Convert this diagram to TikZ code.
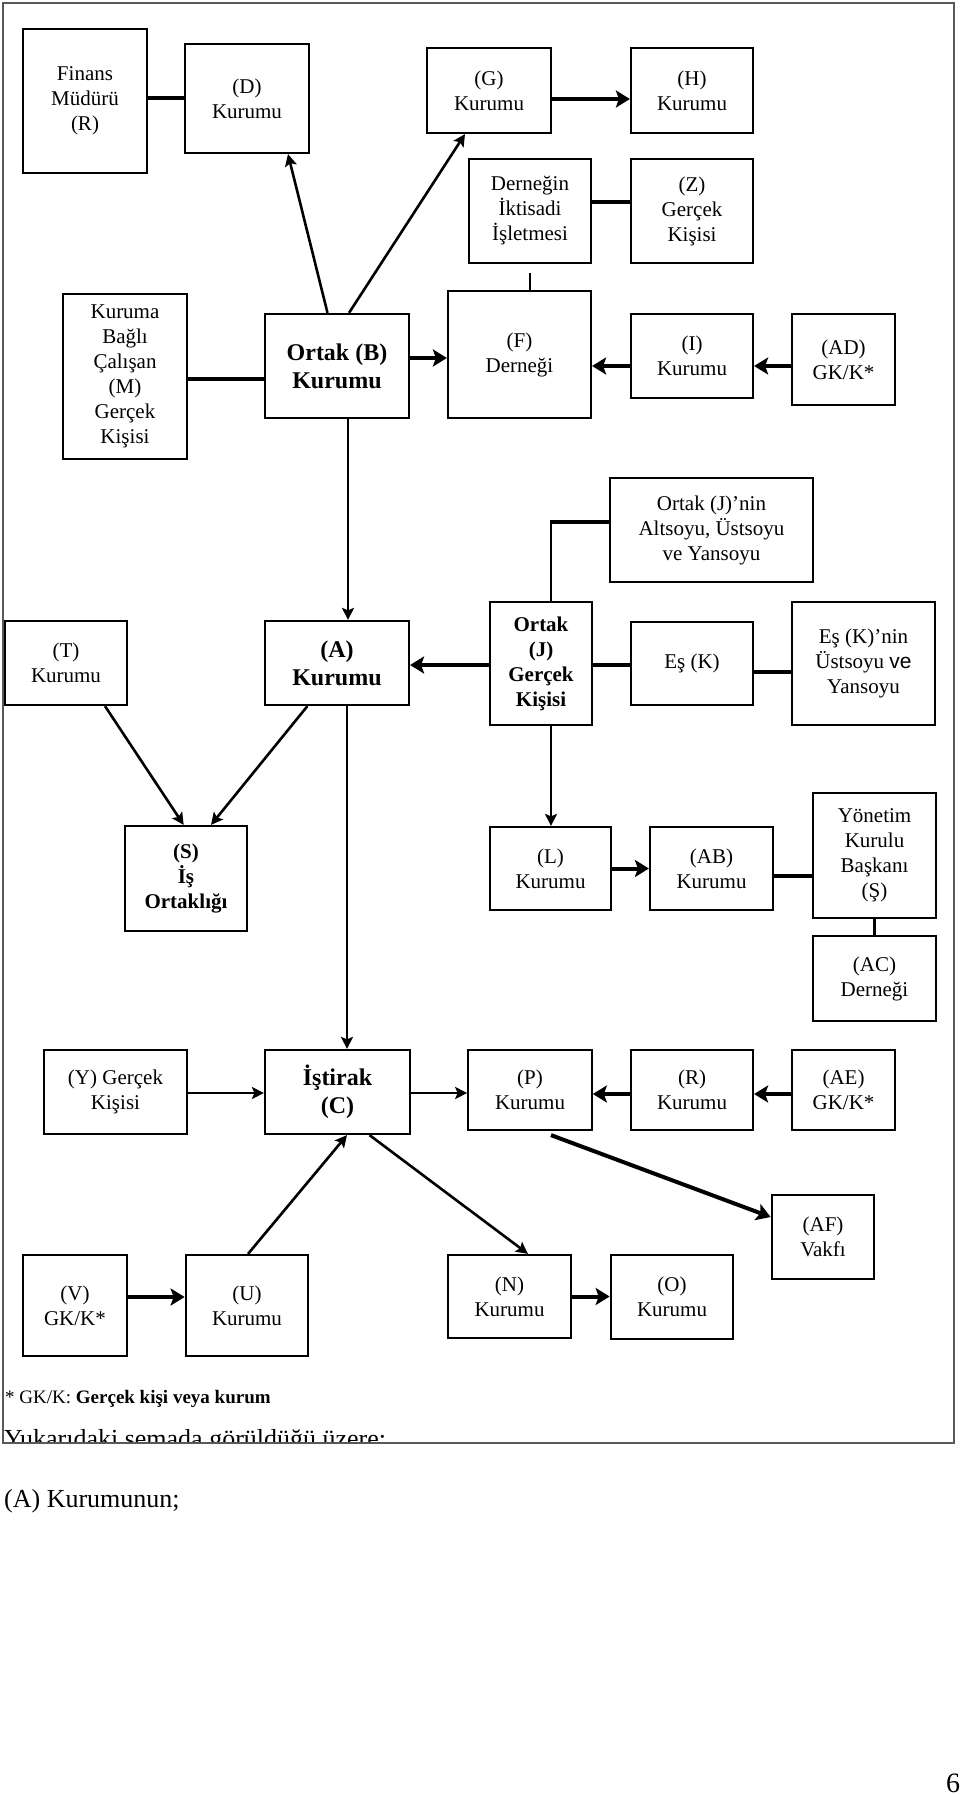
\documentclass[tikz,border=0pt]{standalone}
\usepackage{fontspec}
\setmainfont{Liberation Serif}
\setsansfont{Liberation Sans}
\usetikzlibrary{arrows.meta}
\begin{document}
\begin{tikzpicture}[x=1pt,y=-1pt,
  box/.style={draw, line width=2.2pt, align=center, inner sep=0pt, font=\fontsize{21}{25}\selectfont},
  bbox/.style={box, font=\fontsize{24}{28}\selectfont\bfseries},
  sbox/.style={box, font=\fontsize{21}{25}\selectfont\bfseries},
  thk/.style={line width=4pt},
  thn/.style={line width=2.6pt},
  thkarr/.style={thk, -{Stealth[length=14pt,width=17pt,inset=3pt]}},
  thnarr/.style={thn, -{Stealth[length=12pt,width=12pt,inset=2.5pt]}},
  txt/.style={anchor=base west, inner sep=0pt},
]
\useasboundingbox (0,0) rectangle (960,1795);

% boxes
\node[box, minimum width=124pt, minimum height=144pt] (fin) at (85,101) {Finans\\Müdürü\\(R)};
\node[box, minimum width=124pt, minimum height=109pt] (D) at (247,98.5) {(D)\\Kurumu};
\node[box, minimum width=124pt, minimum height=85pt] (G) at (489,90.5) {(G)\\Kurumu};
\node[box, minimum width=122pt, minimum height=85pt] (H) at (692,90.5) {(H)\\Kurumu};
\node[box, minimum width=122.5pt, minimum height=104pt] (dii) at (530,211) {Derneğin\\İktisadi\\İşletmesi};
\node[box, minimum width=122pt, minimum height=104pt] (Z) at (692,211) {(Z)\\Gerçek\\Kişisi};
\node[box, minimum width=124pt, minimum height=165pt] (M) at (125,376.5) {Kuruma\\Bağlı\\Çalışan\\(M)\\Gerçek\\Kişisi};
\node[bbox, minimum width=144pt, minimum height=104pt] (B) at (337,366) {Ortak (B)\\Kurumu};
\node[box, minimum width=143pt, minimum height=127pt] (F) at (519.5,354.5) {(F)\\Derneği};
\node[box, minimum width=122pt, minimum height=84pt] (I) at (692,356) {(I)\\Kurumu};
\node[box, minimum width=103pt, minimum height=91pt] (AD) at (843.5,359.5) {(AD)\\GK/K*};
\node[box, minimum width=203pt, minimum height=104pt] (Jd) at (711.5,530) {Ortak (J)’nin\\Altsoyu, Üstsoyu\\ve Yansoyu};
\node[box, minimum width=122pt, minimum height=84pt] (T) at (66,663) {(T)\\Kurumu};
\node[bbox, minimum width=144pt, minimum height=84pt] (A) at (337,663) {(A)\\Kurumu};
\node[sbox, minimum width=102pt, minimum height=123pt] (J) at (541,663.5) {Ortak\\(J)\\Gerçek\\Kişisi};
\node[box, minimum width=122pt, minimum height=83pt] (K) at (692,663.5) {Eş (K)};
\node[box, minimum width=143pt, minimum height=123pt] (Kd) at (863.5,663.5) {Eş (K)’nin\\Üstsoyu {\sffamily ve}\\Yansoyu};
\node[sbox, minimum width=121.5pt, minimum height=105pt] (S) at (186,878.5) {(S)\\İş\\Ortaklığı};
\node[box, minimum width=121pt, minimum height=83pt] (L) at (550.5,868.5) {(L)\\Kurumu};
\node[box, minimum width=123pt, minimum height=83pt] (AB) at (711.5,868.5) {(AB)\\Kurumu};
\node[box, minimum width=123pt, minimum height=125pt] (YK) at (874.5,855.5) {Yönetim\\Kurulu\\Başkanı\\(Ş)};
\node[box, minimum width=123pt, minimum height=85pt] (AC) at (874.5,978.5) {(AC)\\Derneği};
\node[box, minimum width=143pt, minimum height=84pt] (Y) at (115.5,1092) {(Y) Gerçek\\Kişisi};
\node[bbox, minimum width=145pt, minimum height=84pt] (C) at (337.5,1092) {İştirak\\(C)};
\node[box, minimum width=123.5pt, minimum height=80pt] (P) at (530,1090) {(P)\\Kurumu};
\node[box, minimum width=122pt, minimum height=80pt] (R) at (692,1090) {(R)\\Kurumu};
\node[box, minimum width=103pt, minimum height=80pt] (AE) at (843.5,1090) {(AE)\\GK/K*};
\node[box, minimum width=102.5pt, minimum height=84pt] (AF) at (823,1237) {(AF)\\Vakfı};
\node[box, minimum width=104pt, minimum height=101pt] (V) at (75,1305.5) {(V)\\GK/K*};
\node[box, minimum width=122.5pt, minimum height=101pt] (U) at (247,1305.5) {(U)\\Kurumu};
\node[box, minimum width=123pt, minimum height=83pt] (N) at (509.5,1296.5) {(N)\\Kurumu};
\node[box, minimum width=122.5pt, minimum height=84pt] (O) at (672,1297) {(O)\\Kurumu};

% connectors
\draw[thk] (D.west) -- (D.west -| fin.east);
\draw[thkarr] ([yshift=-8.5pt]G.east) -- ([yshift=-8.5pt]G.east -| H.west);
\draw[thk] ([yshift=9pt]dii.east) -- ([yshift=9pt]dii.east -| Z.west);
\draw[thn] ([yshift=-9pt]dii.south) -- (dii.south |- F.north);
\draw[thk] ([yshift=-2.5pt]M.east) -- ([yshift=-2.5pt]M.east -| B.west);
\draw[thkarr] ([yshift=8pt]B.east) -- ([yshift=8pt]B.east -| F.west);
\draw[thkarr] ([yshift=-10pt]I.west) -- ([yshift=-10pt]I.west -| F.east);
\draw[thkarr] ([yshift=-6.5pt]AD.west) -- ([yshift=-6.5pt]AD.west -| I.east);
\draw[thnarr] ([xshift=-9.5pt]B.north) -- ([xshift=41pt]D.south);
\draw[thnarr] ([xshift=12pt]B.north) -- ([xshift=-24pt]G.south);
\draw[thnarr] ([xshift=11pt]B.south) -- ([xshift=11pt]B.south |- A.north);
\draw[thnarr] ([xshift=10pt]A.south) -- ([xshift=10pt]A.south |- C.north);
\draw[thkarr] ([yshift=-1.5pt]J.west) -- ([yshift=-1.5pt]J.west -| A.east);
\draw[thk] ([yshift=-1.5pt]J.east) -- ([yshift=-1.5pt]J.east -| K.west);
\draw[thk] ([yshift=-8.5pt]K.east) -- ([yshift=-8.5pt]K.east -| Kd.west);
\path ([xshift=10pt]J.north) coordinate (j1) ([yshift=8pt]Jd.west) coordinate (j2);
\draw[thn] (j1) -- (j1 |- j2);
\draw[thk] ([xshift=-1.3pt]j1 |- j2) -- (j2);
\draw[thnarr] ([xshift=39pt]T.south) -- ([xshift=-2.3pt]S.north);
\draw[thnarr] ([xshift=-29.6pt]A.south) -- ([xshift=25pt]S.north);
\draw[thnarr] ([xshift=10pt]J.south) -- ([xshift=10pt]J.south |- L.north);
\draw[thkarr] (L.east) -- (L.east -| AB.west);
\draw[thk] ([yshift=-7.5pt]AB.east) -- ([yshift=-7.5pt]AB.east -| YK.west);
\draw[thn] (YK.south) -- (AC.north);
\draw[thnarr] ([yshift=-1pt]Y.east) -- ([yshift=-1pt]Y.east -| C.west);
\draw[thnarr] ([yshift=-1pt]C.east) -- ([yshift=-1pt]C.east -| P.west);
\draw[thkarr] ([yshift=-4pt]R.west) -- ([yshift=-4pt]R.west -| P.east);
\draw[thkarr] ([yshift=-4pt]AE.west) -- ([yshift=-4pt]AE.west -| R.east);
\draw[thkarr] ([xshift=21pt,yshift=-4pt]P.south) -- ([yshift=20pt]AF.west);
\draw[thnarr] ([xshift=1pt]U.north) -- ([xshift=9.5pt]C.south);
\draw[thnarr] ([xshift=32pt]C.south) -- ([xshift=18.5pt]N.north);
\draw[thkarr] ([yshift=8.5pt]V.east) -- ([yshift=8.5pt]V.east -| U.west);
\draw[thkarr] (N.east) -- (N.east -| O.west);

% texts
\node[txt, font=\fontsize{19}{23}\selectfont] (fn) at (5,1403) {* GK/K: \textbf{Gerçek kişi veya kurum}};
\begin{scope}
  \clip (3,3) rectangle (954,1443);
  \node[txt, font=\fontsize{26}{30}\selectfont] (yuk) at (4,1447) {Yukarıdaki şemada görüldüğü üzere;};
\end{scope}
\draw[line width=1.2pt, black!65] (3,3) rectangle (954,1443);
\node[txt, font=\fontsize{26}{30}\selectfont] (akur) at (4,1507) {(A) Kurumunun;};
\node[txt, font=\fontsize{28}{32}\selectfont] (pg) at (946,1792) {6};
\end{tikzpicture}
\end{document}
